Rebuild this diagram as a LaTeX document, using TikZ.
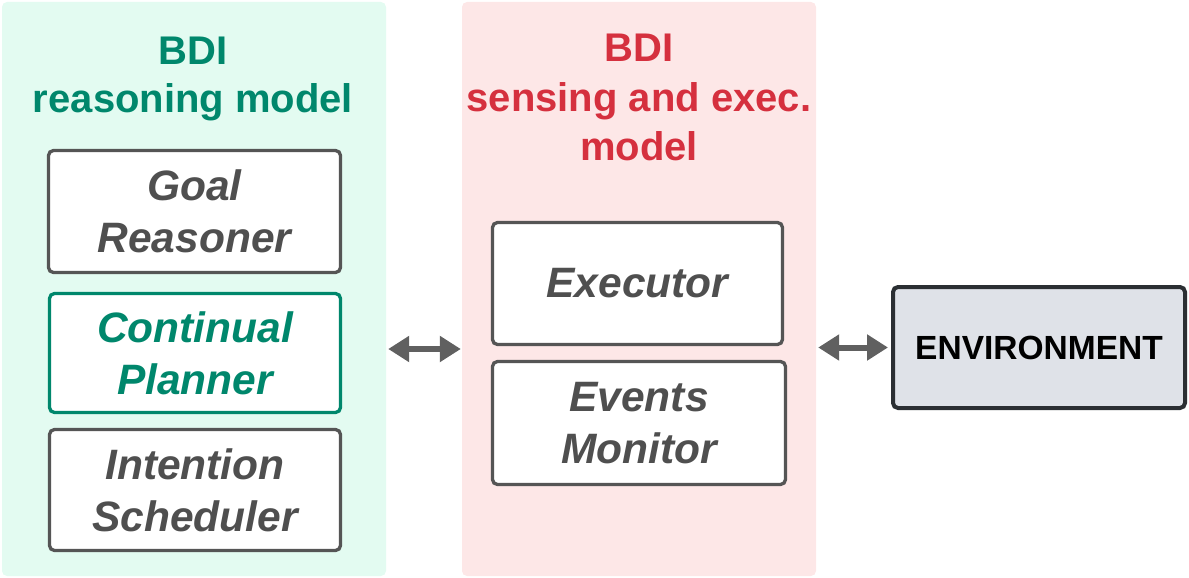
\documentclass[tikz,border=0pt]{standalone}
\usepackage{fontspec}
\setmainfont{Liberation Sans}
\usetikzlibrary{arrows.meta}
\definecolor{teal}{HTML}{00876C}
\definecolor{redt}{HTML}{D5303E}
\definecolor{graytxt}{HTML}{4F4F4F}
\definecolor{boxline}{HTML}{555555}
\definecolor{greenbg}{HTML}{E3FBF1}
\definecolor{redbg}{HTML}{FDE7E7}
\definecolor{envbg}{HTML}{DFE2E8}
\definecolor{envline}{HTML}{2B2F33}
\definecolor{arrgray}{HTML}{606060}
\tikzset{
  panel/.style={rounded corners=5pt, inner sep=0pt},
  title/.style={anchor=base, inner sep=0pt, font=\fontsize{40}{48}\selectfont\bfseries},
  block/.style={draw=boxline, line width=3.3pt, rounded corners=5pt, fill=white, inner sep=0pt,
    align=center, text=graytxt, font=\fontsize{42.5}{52}\selectfont\bfseries\itshape},
  envbox/.style={draw=envline, line width=4pt, rounded corners=5pt, fill=envbg, inner sep=0pt,
    font=\fontsize{33.5}{40}\selectfont\bfseries, text=black},
  arr/.style={draw=arrgray, line width=6pt, {Triangle[length=21pt,width=25pt]}-{Triangle[length=21pt,width=25pt]}}
}
\begin{document}
\begin{tikzpicture}[x=1pt,y=-1pt]
\useasboundingbox (0,0) rectangle (1189,578);
% panels
\node[panel, fill=greenbg, minimum width=384pt, minimum height=574pt] (green) at (194,289) {};
\node[panel, fill=redbg, minimum width=354pt, minimum height=574pt] (red) at (639,289) {};
% titles
\node[title, text=teal] (gt1) at (193,65) {BDI};
\node[title, text=teal] (gt2) at (193,113) {reasoning model};
\node[title, text=redt] (rt1) at (639,62) {BDI};
\node[title, text=redt] (rt2) at (639,111) {sensing and exec.};
\node[title, text=redt] (rt3) at (639,160) {model};
% left blocks
\node[block, minimum width=292pt, minimum height=122pt] (goal) at (194.5,211.5) {Goal\\Reasoner};
\node[block, draw=teal, text=teal, minimum width=291pt, minimum height=119pt] (plan) at (195,353) {Continual\\Planner};
\node[block, minimum width=291pt, minimum height=121pt] (sched) at (195,490) {Intention\\Scheduler};
% middle blocks
\node[block, minimum width=290pt, minimum height=122pt] (exec) at (637.5,283.5) {Executor};
\node[block, minimum width=293pt, minimum height=123pt] (mon) at (639,423) {Events\\Monitor};
% environment
\node[envbox, minimum width=292pt, minimum height=121pt] (env) at (1039,347.5) {ENVIRONMENT};
% arrows
\draw[arr] ([yshift=-60pt,xshift=2pt]green.east) -- ([yshift=-60pt,xshift=-1pt]red.west);
\draw[arr] ([xshift=2pt]red.east |- env.west) -- ([xshift=-3pt]env.west);
\end{tikzpicture}
\end{document}
